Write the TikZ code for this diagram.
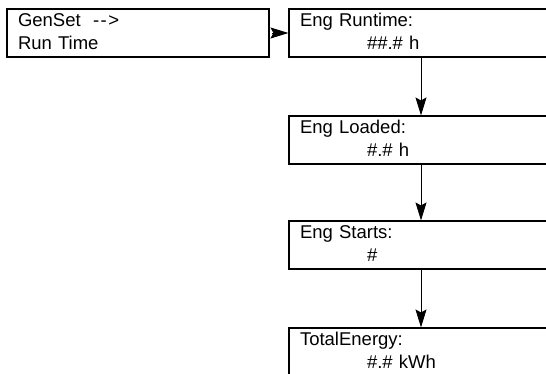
\documentclass[tikz,border=0pt]{standalone}
\usepackage{fontspec}
\setmainfont{Liberation Sans}
\usetikzlibrary{arrows.meta}
\newcommand{\valrow}[1]{\hspace*{67pt}#1\rule[-3pt]{0pt}{3pt}}

\begin{document}
\begin{tikzpicture}[x=1pt, y=-1pt, every node/.style={draw, rectangle, line width=1.1pt, minimum height=48pt, inner xsep=11pt, inner ysep=0pt, align=left, font=\fontsize{18.5}{23}\selectfont}]
	\useasboundingbox (0,0) rectangle (546,373);
	\clip (0,0) rectangle (546,373);
	% Nodes
	\node[text width=240pt] (genset) at (138, 33) {GenSet\ \ -\kern1.5pt-\kern1.5pt>\\Run Time\rule[-3pt]{0pt}{3pt}};
	\node[text width=242pt] (runtime) at (421, 33) {Eng Runtime:\\\valrow{\#\#.\# h}};
	\node[text width=242pt] (loaded) at (421, 140) {Eng Loaded:\\\valrow{\#.\# h}};
	\node[text width=242pt] (starts) at (421, 245) {Eng Starts:\\\valrow{\#}};
	\node[text width=242pt] (energy) at (421, 352) {TotalEnergy:\\\valrow{\#.\# kWh}};

	% Edges
	\draw[line width=1pt, -{Stealth[length=18pt, width=11pt, inset=3pt]}, shorten <=2pt] (genset) -- (runtime);
	\draw[line width=1pt, -{Stealth[length=18pt, width=11pt, inset=3pt]}] (runtime) -- (loaded);
	\draw[line width=1pt, -{Stealth[length=18pt, width=11pt, inset=3pt]}] (loaded) -- (starts);
	\draw[line width=1pt, -{Stealth[length=18pt, width=11pt, inset=3pt]}] (starts) -- (energy);
\end{tikzpicture}
\end{document}
